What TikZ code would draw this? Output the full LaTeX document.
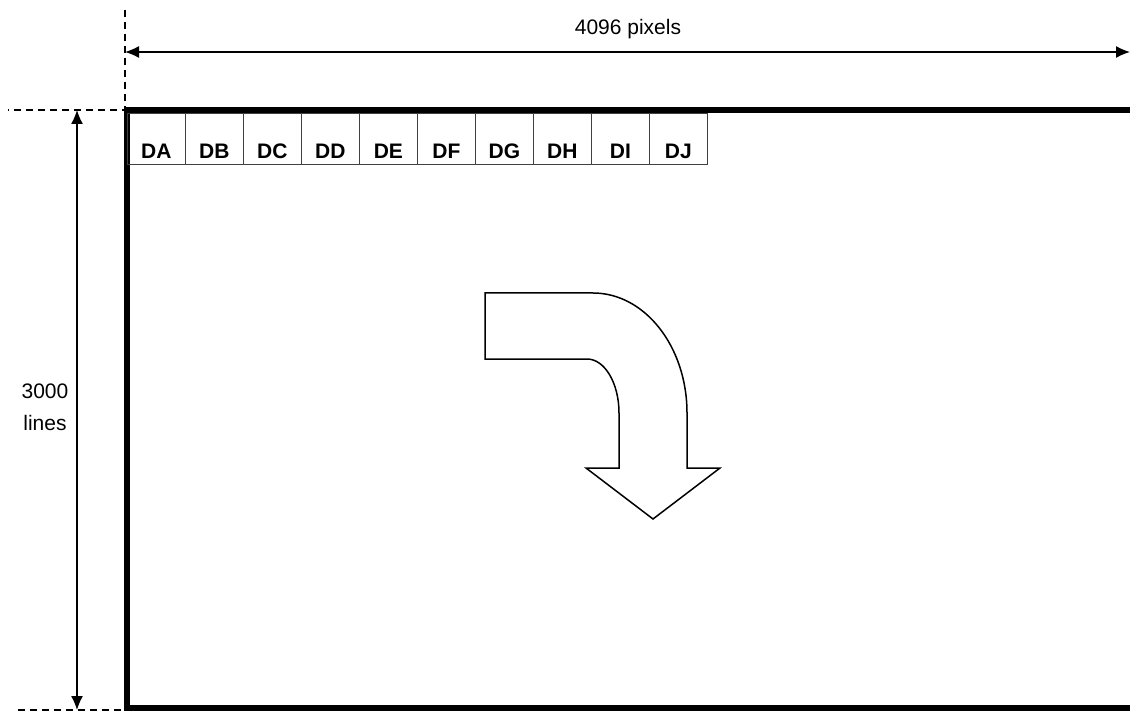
\documentclass[tikz,border=0pt]{standalone}
\usepackage{fontspec}
\setmainfont{Liberation Sans}
\usetikzlibrary{arrows.meta, positioning}

\begin{document}
\begin{tikzpicture}[x=1pt, y=-1pt,
  dim/.style={line width=1.3pt, {Latex[length=14pt,width=12pt]}-{Latex[length=14pt,width=12pt]}},
  guide/.style={line width=1.3pt, dash pattern=on 7pt off 5pt},
  frame/.style={line width=6pt, line join=miter},
  cell/.style={draw=black!75, line width=0.8pt, anchor=north west, minimum width=58pt, minimum height=51pt, inner sep=0pt, text height=45pt, text depth=6pt, font=\fontsize{21}{25}\selectfont\bfseries},
  lbl/.style={font=\fontsize{21}{32}\selectfont, align=center}]
\useasboundingbox (0,0) rectangle (1130,711);

% Guide lines
\coordinate (corner) at (125,110);
\coordinate (guideTop) at (125,10);
\coordinate (guideLeft) at (8,110);
\coordinate (guideLow) at (18,710);
\coordinate (cornerLow) at (125,710);
\draw[guide] (guideTop) -- (corner) -- (guideLeft);
\draw[guide] (guideLow) -- (cornerLow);

% Dimensions
\coordinate (widthL) at (125,52);
\coordinate (widthR) at (1130,52);
\coordinate (heightT) at (77,110);
\coordinate (heightB) at (77,710);
\draw[dim] (widthL) -- (widthR);
\draw[dim] (heightT) -- (heightB);
\node[lbl] (widthlbl) at (628,29) {4096 pixels};
\node[lbl] (heightlbl) at (45,407) {3000\\lines};

% Frame
\draw[frame] (1130,110.5) -- (126.5,110.5) -- (126.5,708) -- (1130,708);

% Cells
\foreach \c [count=\i from 0] in {A,...,J}
  \node[cell] (cell\c) at ({127+58*\i},113.5) {D\c};

% Bent arrow
\draw[line width=1.5pt, line join=miter, fill=white]
  (485,293) -- (593,293) arc[start angle=-90, end angle=0, x radius=94, y radius=120]
  -- (687,468) -- (720,468) -- (653,519) -- (586,468) -- (619,468) -- (619,413)
  arc[start angle=0, end angle=-90, x radius=32, y radius=54]
  -- (485,359) -- cycle;

\end{tikzpicture}
\end{document}
